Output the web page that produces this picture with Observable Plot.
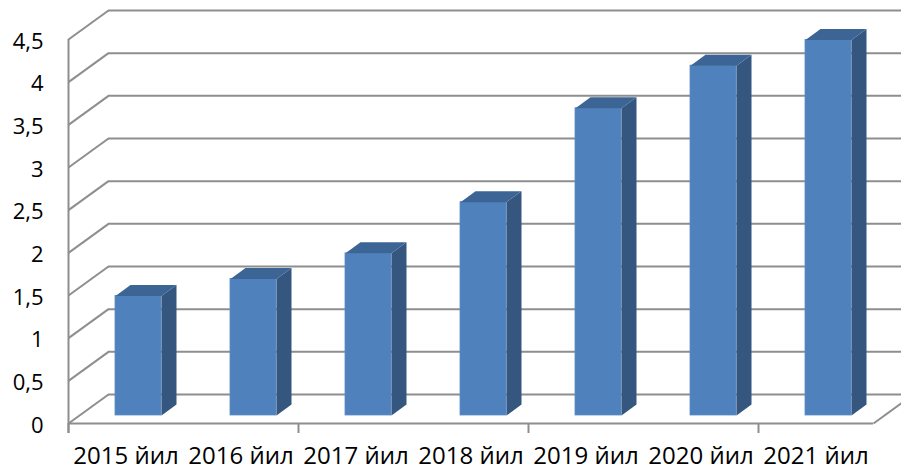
<!DOCTYPE html>
<html>
<head>
<meta charset="utf-8">
<script src="https://cdn.jsdelivr.net/npm/d3@7"></script>
<script src="https://cdn.jsdelivr.net/npm/@observablehq/plot@0.6"></script>
<style>
  html, body { margin: 0; padding: 0; background: #fff; overflow: hidden; }
  #chart { width: 901px; height: 470px; overflow: hidden; }
</style>
</head>
<body>
<div id="chart"></div>
<script>
const categories = ["2015 йил", "2016 йил", "2017 йил", "2018 йил", "2019 йил", "2020 йил", "2021 йил"];
const values = [1.4, 1.6, 1.9, 2.5, 3.6, 4.1, 4.4];
const yTicks = [0, 0.5, 1, 1.5, 2, 2.5, 3, 3.5, 4, 4.5];
const yTickLabels = ["0", "0,5", "1", "1,5", "2", "2,5", "3", "3,5", "4", "4,5"];
const xTickPositions = [0, 2, 4, 6];

const W = 901, H = 470;
const mL = 68, mR = 28, mT = 39, mB = 47;
const KX = (W - mL - mR) / categories.length;   // px per category
const KY = (H - mT - mB) / 4.5;                 // px per unit
// 3D depth offsets (px) converted to data units
const wallDX = 40 / KX, wallDY = 29 / KY;
const barDX = 15 / KX, barDY = 11 / KY;
const barL = 47 / KX, barR = 93 / KX;
const tickLen = 10 / KY;

const bars = categories.map((c, i) => ({c, i, v: values[i], x1: i + barL, x2: i + barR}));
const sidePts = bars.flatMap(b => [
  {id: b.c, x: b.x2, y: 0},
  {id: b.c, x: b.x2, y: b.v},
  {id: b.c, x: b.x2 + barDX, y: b.v + barDY},
  {id: b.c, x: b.x2 + barDX, y: barDY},
  {id: b.c, x: b.x2, y: 0}
]);
const topPts = bars.flatMap(b => [
  {id: b.c, x: b.x1, y: b.v},
  {id: b.c, x: b.x2, y: b.v},
  {id: b.c, x: b.x2 + barDX, y: b.v + barDY},
  {id: b.c, x: b.x1 + barDX, y: b.v + barDY},
  {id: b.c, x: b.x1, y: b.v}
]);

const gridColor = "#8e8e8e";

const chart = Plot.plot({
  width: W, height: H,
  marginLeft: mL, marginRight: mR, marginTop: mT, marginBottom: mB,
  x: {domain: [0, categories.length], axis: null},
  y: {domain: [0, 4.5], axis: null},
  style: {fontFamily: "'Open Sans', sans-serif", background: "#fff", color: "#000", overflow: "hidden"},
  marks: [
    // back wall gridlines
    Plot.ruleY(yTicks, {x1: 0, x2: categories.length + 1, dx: 40, dy: -29, stroke: gridColor, strokeWidth: 2}),
    // side wall diagonals
    Plot.link(yTicks, {x1: 0, y1: d => d, x2: wallDX, y2: d => d + wallDY, stroke: gridColor, strokeWidth: 2}),
    // floor front edge and right edge
    Plot.ruleY([0], {x1: 0, x2: categories.length, stroke: gridColor, strokeWidth: 2}),
    Plot.link([0], {x1: categories.length, y1: 0, x2: categories.length + wallDX, y2: wallDY, stroke: gridColor, strokeWidth: 2}),
    // bars: front, side, top
    Plot.rect(bars, {x1: "x1", x2: "x2", y1: 0, y2: "v", dy: -8, fill: "#4f81bd", stroke: "#5b8cc6", strokeWidth: 0.8}),
    Plot.line(sidePts, {x: "x", y: "y", z: "id", dy: -8, fill: "#34567f", stroke: "none"}),
    Plot.line(topPts, {x: "x", y: "y", z: "id", dy: -8, fill: "#3c6494", stroke: "none"}),
    // front vertical axis + ticks
    Plot.ruleX([0], {y1: -tickLen, y2: 4.5, stroke: gridColor, strokeWidth: 2}),
    Plot.ruleX(xTickPositions, {y1: -tickLen, y2: 0, stroke: gridColor, strokeWidth: 2}),
    // y labels
    Plot.text(yTicks, {x: 0, y: d => d, text: (d, i) => yTickLabels[i], textAnchor: "end", dx: -25, dy: 2, fontSize: 22, fill: "#000"}),
    // category labels
    Plot.text(categories, {x: (d, i) => i + 0.5, y: 0, text: d => d, dy: 33, fontSize: 24, fill: "#000"})
  ]
});
document.getElementById("chart").appendChild(chart);
</script>
</body>
</html>
